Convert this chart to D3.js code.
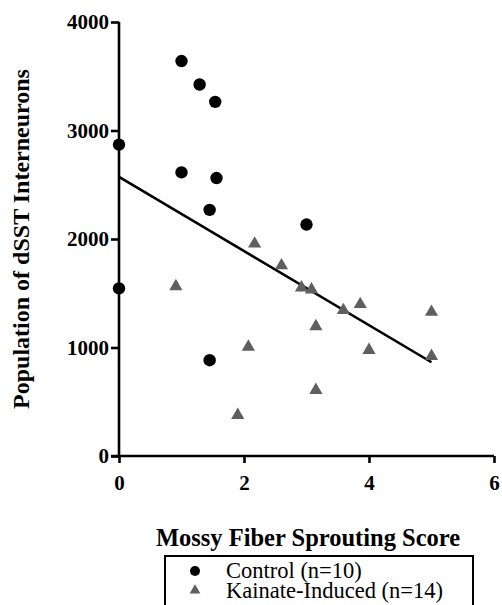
<!DOCTYPE html>
<html><head><meta charset="utf-8">
<script src="https://cdn.jsdelivr.net/npm/d3@7"></script>
<style>
body{margin:0;background:#fff;}
svg{display:block;}
</style></head>
<body>
<script>
const controlX = [0, 0, 1.0, 1.29, 1.54, 1.0, 1.56, 1.45, 3.0, 1.45];
const controlY = [2870, 1545, 3640, 3424, 3264, 2614, 2562, 2268, 2133, 883];
const kainateX = [0.91, 2.07, 1.9, 2.17, 2.6, 2.92, 3.08, 3.15, 3.59, 3.86, 4.0, 5.0, 5.0, 3.15];
const kainateY = [1563, 1005, 377, 1956, 1756, 1551, 1533, 1195, 1343, 1398, 975, 1327, 920, 607];
const xTicks = [0, 2, 4, 6];
const yTicks = [0, 1000, 2000, 3000, 4000];
const seriesNames = ["Control (n=10)", "Kainate-Induced (n=14)"];
const xTitle = "Mossy Fiber Sprouting Score";
const yTitle = "Population of dSST Interneurons";

const W = 502, H = 605;
const svg = d3.select("body").append("svg").attr("width", W).attr("height", H);
const x = d3.scaleLinear().domain([0, 6]).range([119, 494]);
const y = d3.scaleLinear().domain([0, 4000]).range([456, 22]);
const font = "'Liberation Serif','Times New Roman',Times,serif";

// axes
const xAxis = svg.append("g").attr("transform", "translate(0,456)")
  .call(d3.axisBottom(x).tickValues(xTicks).tickSize(7).tickPadding(12).tickFormat(d3.format("d")));
const yAxis = svg.append("g").attr("transform", "translate(119,0)")
  .call(d3.axisLeft(y).tickValues(yTicks).tickSize(8).tickPadding(2).tickFormat(d3.format("d")));
[xAxis, yAxis].forEach(g => {
  g.attr("font-family", null).attr("font-size", null);
  g.select(".domain").attr("stroke", "#000").attr("stroke-width", 2.6);
  g.selectAll(".tick line").attr("stroke", "#000").attr("stroke-width", 2.6);
  g.selectAll("text").style("font-family", font).style("font-weight", "bold")
    .style("font-size", "21px").attr("fill", "#000");
});
xAxis.select(".domain").attr("d", `M${x(0)-8},0H${x(6)}`);
yAxis.select(".domain").attr("d", `M0,${y(4000)}V${y(0)}`);

// regression line over all points
const allX = controlX.concat(kainateX), allY = controlY.concat(kainateY);
const mx = d3.mean(allX), my = d3.mean(allY);
let sxy = 0, sxx = 0;
allX.forEach((v, i) => { sxy += (v - mx) * (allY[i] - my); sxx += (v - mx) * (v - mx); });
const slope = sxy / sxx, icpt = my - slope * mx;
const x0 = d3.min(allX), x1 = d3.max(allX);
svg.append("line")
  .attr("x1", x(x0)).attr("y1", y(icpt + slope * x0))
  .attr("x2", x(x1)).attr("y2", y(icpt + slope * x1))
  .attr("stroke", "#000").attr("stroke-width", 2.6);

// points
const tri = d3.symbol().type(d3.symbolTriangle).size(75);
svg.append("g").selectAll("path").data(kainateX.map((v, i) => [v, kainateY[i]]))
  .join("path").attr("d", tri)
  .attr("transform", d => `translate(${x(d[0])},${y(d[1])})`)
  .attr("fill", "#5f5f5f");
svg.append("g").selectAll("circle").data(controlX.map((v, i) => [v, controlY[i]]))
  .join("circle").attr("cx", d => x(d[0])).attr("cy", d => y(d[1])).attr("r", 6.2)
  .attr("fill", "#000");

// titles
svg.append("text").attr("x", 308).attr("y", 546).attr("text-anchor", "middle")
  .style("font-family", font).style("font-weight", "bold").style("font-size", "24.5px")
  .text(xTitle);
svg.append("text").attr("transform", `translate(29,${(y(0)+y(4000))/2}) rotate(-90)`)
  .attr("text-anchor", "middle")
  .style("font-family", font).style("font-weight", "bold").style("font-size", "24px")
  .text(yTitle);

// legend
const lg = svg.append("g");
lg.append("rect").attr("x", 165).attr("y", 556).attr("width", 308).attr("height", 70)
  .attr("fill", "none").attr("stroke", "#000").attr("stroke-width", 2);
seriesNames.forEach((name, i) => {
  const cy = 571 + i * 19.5;
  if (i === 0) lg.append("circle").attr("cx", 195).attr("cy", cy).attr("r", 5).attr("fill", "#000");
  else lg.append("path").attr("d", d3.symbol().type(d3.symbolTriangle).size(50))
    .attr("transform", `translate(195,${cy})`).attr("fill", "#5f5f5f");
  lg.append("text").attr("x", 226).attr("y", cy + 7).style("font-family", font)
    .style("font-size", "22.5px").attr("fill", "#000").text(name);
});
</script>
</body></html>
